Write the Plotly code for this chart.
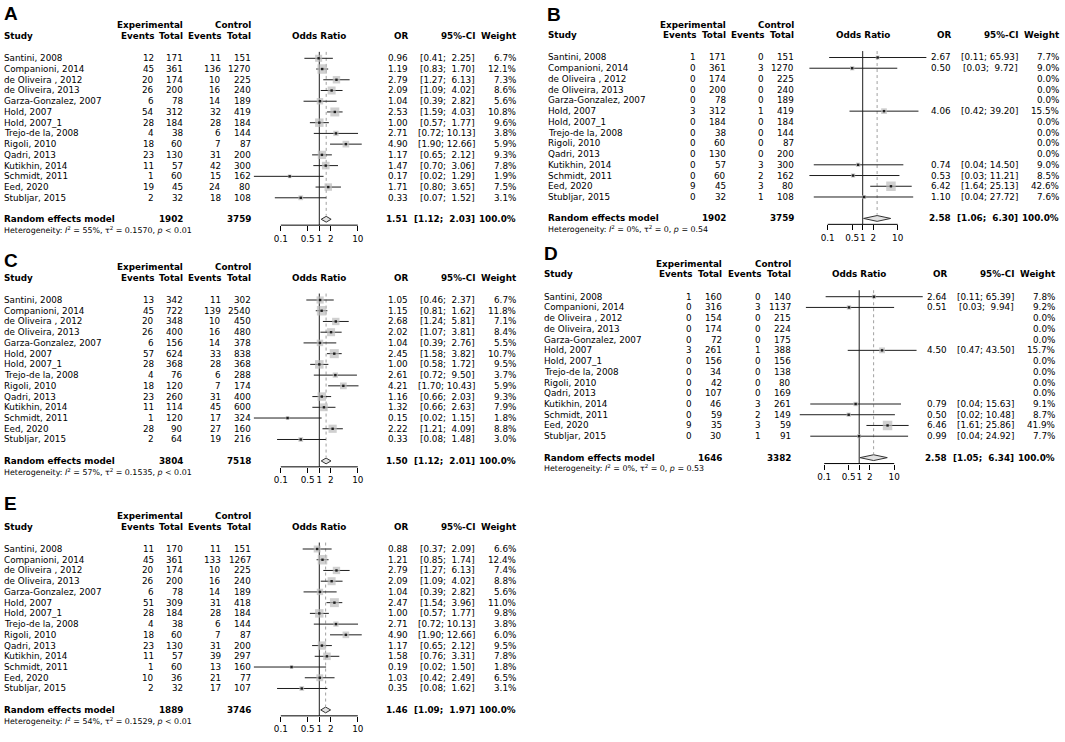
import math
import plotly.graph_objects as go

W, H = 1065, 742

studies = ["Santini, 2008", "Companioni, 2014", "de Oliveira , 2012", "de Oliveira, 2013",
           "Garza-Gonzalez, 2007", "Hold, 2007", "Hold, 2007_1", "Trejo-de la, 2008",
           "Rigoli, 2010", "Qadri, 2013", "Kutikhin, 2014", "Schmidt, 2011", "Eed, 2020",
           "Stubljar, 2015"]

tick_vals = [0.1, 0.5, 1, 2, 10]
tick_text = ["0.1", "0.5", "1", "2", "10"]

# ---- Panel A ----
A_exp_events = [12, 45, 20, 26, 6, 54, 28, 4, 18, 23, 11, 1, 19, 2]
A_exp_total = [171, 361, 174, 200, 78, 312, 184, 38, 60, 130, 57, 60, 45, 32]
A_ctl_events = [11, 136, 10, 16, 14, 32, 28, 6, 7, 31, 42, 15, 24, 18]
A_ctl_total = [151, 1270, 225, 240, 189, 419, 184, 144, 87, 200, 300, 162, 80, 108]
A_or = [0.96, 1.19, 2.79, 2.09, 1.04, 2.53, 1.00, 2.71, 4.90, 1.17, 1.47, 0.17, 1.71, 0.33]
A_lo = [0.41, 0.83, 1.27, 1.09, 0.39, 1.59, 0.57, 0.72, 1.90, 0.65, 0.70, 0.02, 0.80, 0.07]
A_hi = [2.25, 1.70, 6.13, 4.02, 2.82, 4.03, 1.77, 10.13, 12.66, 2.12, 3.06, 1.29, 3.65, 1.52]
A_weight = [6.7, 12.1, 7.3, 8.6, 5.6, 10.8, 9.6, 3.8, 5.9, 9.3, 7.8, 1.9, 7.5, 3.1]
A_pooled = [1.51, 1.12, 2.03]
A_totals = [1902, 3759]
A_het = ["55%", "0.1570", "&lt; 0.01"]

# ---- Panel B ----
B_exp_events = [1, 0, 0, 0, 0, 3, 0, 0, 0, 0, 0, 0, 9, 0]
B_exp_total = [171, 361, 174, 200, 78, 312, 184, 38, 60, 130, 57, 60, 45, 32]
B_ctl_events = [0, 3, 0, 0, 0, 1, 0, 0, 0, 0, 3, 2, 3, 1]
B_ctl_total = [151, 1270, 225, 240, 189, 419, 184, 144, 87, 200, 300, 162, 80, 108]
B_or = [2.67, 0.50, None, None, None, 4.06, None, None, None, None, 0.74, 0.53, 6.42, 1.10]
B_lo = [0.11, 0.03, None, None, None, 0.42, None, None, None, None, 0.04, 0.03, 1.64, 0.04]
B_hi = [65.93, 9.72, None, None, None, 39.20, None, None, None, None, 14.50, 11.21, 25.13, 27.72]
B_weight = [7.7, 9.0, 0.0, 0.0, 0.0, 15.5, 0.0, 0.0, 0.0, 0.0, 9.0, 8.5, 42.6, 7.6]
B_pooled = [2.58, 1.06, 6.30]
B_totals = [1902, 3759]
B_het = ["0%", "0", "= 0.54"]

# ---- Panel C ----
C_exp_events = [13, 45, 20, 26, 6, 57, 28, 4, 18, 23, 11, 1, 28, 2]
C_exp_total = [342, 722, 348, 400, 156, 624, 368, 76, 120, 260, 114, 120, 90, 64]
C_ctl_events = [11, 139, 10, 16, 14, 33, 28, 6, 7, 31, 45, 17, 27, 19]
C_ctl_total = [302, 2540, 450, 480, 378, 838, 368, 288, 174, 400, 600, 324, 160, 216]
C_or = [1.05, 1.15, 2.68, 2.02, 1.04, 2.45, 1.00, 2.61, 4.21, 1.16, 1.32, 0.15, 2.22, 0.33]
C_lo = [0.46, 0.81, 1.24, 1.07, 0.39, 1.58, 0.58, 0.72, 1.70, 0.66, 0.66, 0.02, 1.21, 0.08]
C_hi = [2.37, 1.62, 5.81, 3.81, 2.76, 3.82, 1.72, 9.50, 10.43, 2.03, 2.63, 1.15, 4.09, 1.48]
C_weight = [6.7, 11.8, 7.1, 8.4, 5.5, 10.7, 9.5, 3.7, 5.9, 9.3, 7.9, 1.8, 8.8, 3.0]
C_pooled = [1.50, 1.12, 2.01]
C_totals = [3804, 7518]
C_het = ["57%", "0.1535", "&lt; 0.01"]

# ---- Panel D ----
D_exp_events = [1, 0, 0, 0, 0, 3, 0, 0, 0, 0, 0, 0, 9, 0]
D_exp_total = [160, 316, 154, 174, 72, 261, 156, 34, 42, 107, 46, 59, 35, 30]
D_ctl_events = [0, 3, 0, 0, 0, 1, 0, 0, 0, 0, 3, 2, 3, 1]
D_ctl_total = [140, 1137, 215, 224, 175, 388, 156, 138, 80, 169, 261, 149, 59, 91]
D_or = [2.64, 0.51, None, None, None, 4.50, None, None, None, None, 0.79, 0.50, 6.46, 0.99]
D_lo = [0.11, 0.03, None, None, None, 0.47, None, None, None, None, 0.04, 0.02, 1.61, 0.04]
D_hi = [65.39, 9.94, None, None, None, 43.50, None, None, None, None, 15.63, 10.48, 25.86, 24.92]
D_weight = [7.8, 9.2, 0.0, 0.0, 0.0, 15.7, 0.0, 0.0, 0.0, 0.0, 9.1, 8.7, 41.9, 7.7]
D_pooled = [2.58, 1.05, 6.34]
D_totals = [1646, 3382]
D_het = ["0%", "0", "= 0.53"]

# ---- Panel E ----
E_exp_events = [11, 45, 20, 26, 6, 51, 28, 4, 18, 23, 11, 1, 10, 2]
E_exp_total = [170, 361, 174, 200, 78, 309, 184, 38, 60, 130, 57, 60, 36, 32]
E_ctl_events = [11, 133, 10, 16, 14, 31, 28, 6, 7, 31, 39, 13, 21, 17]
E_ctl_total = [151, 1267, 225, 240, 189, 418, 184, 144, 87, 200, 297, 160, 77, 107]
E_or = [0.88, 1.21, 2.79, 2.09, 1.04, 2.47, 1.00, 2.71, 4.90, 1.17, 1.58, 0.19, 1.03, 0.35]
E_lo = [0.37, 0.85, 1.27, 1.09, 0.39, 1.54, 0.57, 0.72, 1.90, 0.65, 0.76, 0.02, 0.42, 0.08]
E_hi = [2.09, 1.74, 6.13, 4.02, 2.82, 3.96, 1.77, 10.13, 12.66, 2.12, 3.31, 1.50, 2.49, 1.62]
E_weight = [6.6, 12.4, 7.4, 8.8, 5.6, 11.0, 9.8, 3.8, 6.0, 9.5, 7.8, 1.8, 6.5, 3.1]
E_pooled = [1.46, 1.09, 1.97]
E_totals = [1889, 3746]
E_het = ["54%", "0.1529", "&lt; 0.01"]

# ---- layout geometry (pixels) ----
FONT = "DejaVu Sans"
FS = 8.8
ROW = 10.73
LEFT_COLS = dict(study=3, ev1=155, tot1=183.5, ev2=221.7, tot2=251.5, one=319.3, ppd=38.5,
                 orr=408.5, ci=475.5, wt=516.5, letter=3)
RIGHT_COLS = dict(study=16.7, ev1=166.7, tot1=196.7, ev2=235, tot2=265.2, one=332.7, ppd=35,
                  orr=421.9, ci=488.6, wt=529.5, letter=16)

panels = [
    dict(name="A", x0=0, row0=58.3, cols=LEFT_COLS, letter_row=-4.2,
         ev1=A_exp_events, tot1=A_exp_total, ev2=A_ctl_events, tot2=A_ctl_total,
         orv=A_or, lo=A_lo, hi=A_hi, w=A_weight, pooled=A_pooled, totals=A_totals, het=A_het),
    dict(name="B", x0=530, row0=57.5, cols=RIGHT_COLS, letter_row=-4.0,
         ev1=B_exp_events, tot1=B_exp_total, ev2=B_ctl_events, tot2=B_ctl_total,
         orv=B_or, lo=B_lo, hi=B_hi, w=B_weight, pooled=B_pooled, totals=B_totals, het=B_het),
    dict(name="C", x0=0, row0=300.0, cols=LEFT_COLS, letter_row=-3.7,
         ev1=C_exp_events, tot1=C_exp_total, ev2=C_ctl_events, tot2=C_ctl_total,
         orv=C_or, lo=C_lo, hi=C_hi, w=C_weight, pooled=C_pooled, totals=C_totals, het=C_het),
    dict(name="D", x0=526.5, row0=296.7, cols=RIGHT_COLS, letter_row=-4.0,
         ev1=D_exp_events, tot1=D_exp_total, ev2=D_ctl_events, tot2=D_ctl_total,
         orv=D_or, lo=D_lo, hi=D_hi, w=D_weight, pooled=D_pooled, totals=D_totals, het=D_het),
    dict(name="E", x0=0, row0=549.0, cols=LEFT_COLS, letter_row=-4.2,
         ev1=E_exp_events, tot1=E_exp_total, ev2=E_ctl_events, tot2=E_ctl_total,
         orv=E_or, lo=E_lo, hi=E_hi, w=E_weight, pooled=E_pooled, totals=E_totals, het=E_het),
]

ROW_TOP, ROW_BOT = -5.0, 17.5
AXIS_ROW = 15.55
POOL_ROW = 15
HET_ROW = 16
LOG_LO, LOG_HI = -2.0, 2.0
MAX_SQ = 9.5

fig = go.Figure()
annotations = []
shapes = []
layout_axes = {}


def ann(text, xpx, yrow, yref, anchor, bold=False, size=FS, family=FONT):
    annotations.append(dict(
        text=f"<b>{text}</b>" if bold else text, x=xpx / W, xref="paper", y=yrow, yref=yref,
        xanchor=anchor, yanchor="middle", showarrow=False, borderpad=0,
        font=dict(family=family, size=size, color="black")))


def fmt_ci(lo, hi):
    pad = "\u00a0\u00a0" if hi < 10 else "\u00a0"
    return f"[{lo:.2f};{pad}{hi:.2f}]"


for k, p in enumerate(panels, start=1):
    sfx = "" if k == 1 else str(k)
    xref, yref = "x" + sfx, "y" + sfx
    c = p["cols"]
    x0 = p["x0"]
    row0 = p["row0"]

    def paper_y(r):
        return 1 - (row0 + r * ROW) / H

    one_px = x0 + c["one"]
    ppd = c["ppd"]
    layout_axes["xaxis" + sfx] = dict(
        type="log", range=[LOG_LO, LOG_HI],
        domain=[(one_px + LOG_LO * ppd) / W, (one_px + LOG_HI * ppd) / W],
        anchor="free", position=paper_y(AXIS_ROW), side="bottom",
        showgrid=False, zeroline=False, showline=False,
        tickmode="array", tickvals=tick_vals, ticktext=tick_text, tickangle=0,
        ticks="outside", ticklen=5, tickwidth=1, tickcolor="black",
        tickfont=dict(family=FONT, size=FS, color="black"), fixedrange=True)
    layout_axes["yaxis" + sfx] = dict(
        range=[ROW_BOT, ROW_TOP], domain=[paper_y(ROW_BOT), paper_y(ROW_TOP)],
        anchor=xref, visible=False, showgrid=False, zeroline=False, fixedrange=True)

    # ---- text table ----
    ann(p["name"], x0 + c["letter"], p["letter_row"], yref, "left", bold=True, size=19,
        family="Liberation Sans, Arial")
    ann("Experimental", x0 + c["tot1"], -3.07, yref, "right", bold=True)
    ann("Control", x0 + c["tot2"], -3.07, yref, "right", bold=True)
    h2 = -2.08
    ann("Study", x0 + c["study"], h2, yref, "left", bold=True)
    ann("Events", x0 + c["ev1"], h2, yref, "right", bold=True)
    ann("Total", x0 + c["tot1"], h2, yref, "right", bold=True)
    ann("Events", x0 + c["ev2"], h2, yref, "right", bold=True)
    ann("Total", x0 + c["tot2"], h2, yref, "right", bold=True)
    ann("Odds Ratio", one_px, h2, yref, "center", bold=True)
    ann("OR", x0 + c["orr"], h2, yref, "right", bold=True)
    ann("95%-CI", x0 + c["ci"], h2, yref, "right", bold=True)
    ann("Weight", x0 + c["wt"], h2, yref, "right", bold=True)

    for i, s in enumerate(studies):
        ann(s, x0 + c["study"], i, yref, "left")
        ann(str(p["ev1"][i]), x0 + c["ev1"], i, yref, "right")
        ann(str(p["tot1"][i]), x0 + c["tot1"], i, yref, "right")
        ann(str(p["ev2"][i]), x0 + c["ev2"], i, yref, "right")
        ann(str(p["tot2"][i]), x0 + c["tot2"], i, yref, "right")
        if p["orv"][i] is not None:
            ann(f"{p['orv'][i]:.2f}", x0 + c["orr"], i, yref, "right")
            ann(fmt_ci(p["lo"][i], p["hi"][i]), x0 + c["ci"], i, yref, "right")
        ann(f"{p['w'][i]:.1f}%", x0 + c["wt"], i, yref, "right")

    est, plo, phi = p["pooled"]
    ann("Random effects model", x0 + c["study"], POOL_ROW, yref, "left", bold=True)
    ann(str(p["totals"][0]), x0 + c["tot1"], POOL_ROW, yref, "right", bold=True)
    ann(str(p["totals"][1]), x0 + c["tot2"], POOL_ROW, yref, "right", bold=True)
    ann(f"{est:.2f}", x0 + c["orr"], POOL_ROW, yref, "right", bold=True)
    ann(fmt_ci(plo, phi), x0 + c["ci"], POOL_ROW, yref, "right", bold=True)
    ann("100.0%", x0 + c["wt"], POOL_ROW, yref, "right", bold=True)
    i2, tau2, pval = p["het"]
    ann(f"Heterogeneity: <i>I</i><sup>2</sup> = {i2}, \u03c4<sup>2</sup> = {tau2}, <i>p</i> {pval}",
        x0 + c["study"], HET_ROW, yref, "left", size=7.9)

    # ---- forest marks ----
    idx = [i for i in range(len(studies)) if p["orv"][i] is not None]
    lx, ly = [], []
    for i in idx:
        lx += [p["lo"][i], p["hi"][i], None]
        ly += [i, i, None]
    fig.add_trace(go.Scatter(x=lx, y=ly, mode="lines", xaxis=xref, yaxis=yref,
                             line=dict(color="#1e1e1e", width=1), hoverinfo="skip",
                             showlegend=False, cliponaxis=False))
    wmax = max(p["w"])
    fig.add_trace(go.Scatter(
        x=[p["orv"][i] for i in idx], y=idx, mode="markers", xaxis=xref, yaxis=yref,
        marker=dict(symbol="square", color="#bcbcbc",
                    size=[MAX_SQ * math.sqrt(p["w"][i] / wmax) for i in idx],
                    line=dict(width=0)),
        hoverinfo="skip", showlegend=False, cliponaxis=False))
    fig.add_trace(go.Scatter(
        x=[p["orv"][i] for i in idx], y=idx, mode="markers", xaxis=xref, yaxis=yref,
        marker=dict(symbol="square", color="#1e1e1e", size=2.4, line=dict(width=0)),
        hoverinfo="skip", showlegend=False, cliponaxis=False))
    dh = 0.27
    fig.add_trace(go.Scatter(
        x=[plo, est, phi, est, plo], y=[POOL_ROW, POOL_ROW - dh, POOL_ROW, POOL_ROW + dh, POOL_ROW],
        mode="lines", fill="toself", fillcolor="#e2e2e2", xaxis=xref, yaxis=yref,
        line=dict(color="#333333", width=1), hoverinfo="skip", showlegend=False, cliponaxis=False))

    # reference lines and axis line
    shapes.append(dict(type="line", xref=xref, yref=yref, x0=1, x1=1, y0=-0.6, y1=AXIS_ROW,
                       line=dict(color="#1e1e1e", width=1), layer="below"))
    shapes.append(dict(type="line", xref=xref, yref=yref, x0=est, x1=est, y0=-0.6, y1=POOL_ROW - 0.35,
                       line=dict(color="#a0a0a0", width=1, dash="dot"), layer="below"))
    shapes.append(dict(type="line", xref=xref, yref=yref, x0=tick_vals[0], x1=tick_vals[-1],
                       y0=AXIS_ROW, y1=AXIS_ROW, line=dict(color="black", width=1)))

fig.update_layout(
    width=W, height=H, autosize=False,
    margin=dict(l=0, r=0, t=0, b=0, pad=0),
    paper_bgcolor="white", plot_bgcolor="rgba(0,0,0,0)",
    showlegend=False, annotations=annotations, shapes=shapes,
    font=dict(family=FONT, size=FS, color="black"),
    **layout_axes)

fig.write_html("out.html", config={"displayModeBar": False},
               post_script="document.body.style.margin='0px';document.body.style.overflow='hidden';")
